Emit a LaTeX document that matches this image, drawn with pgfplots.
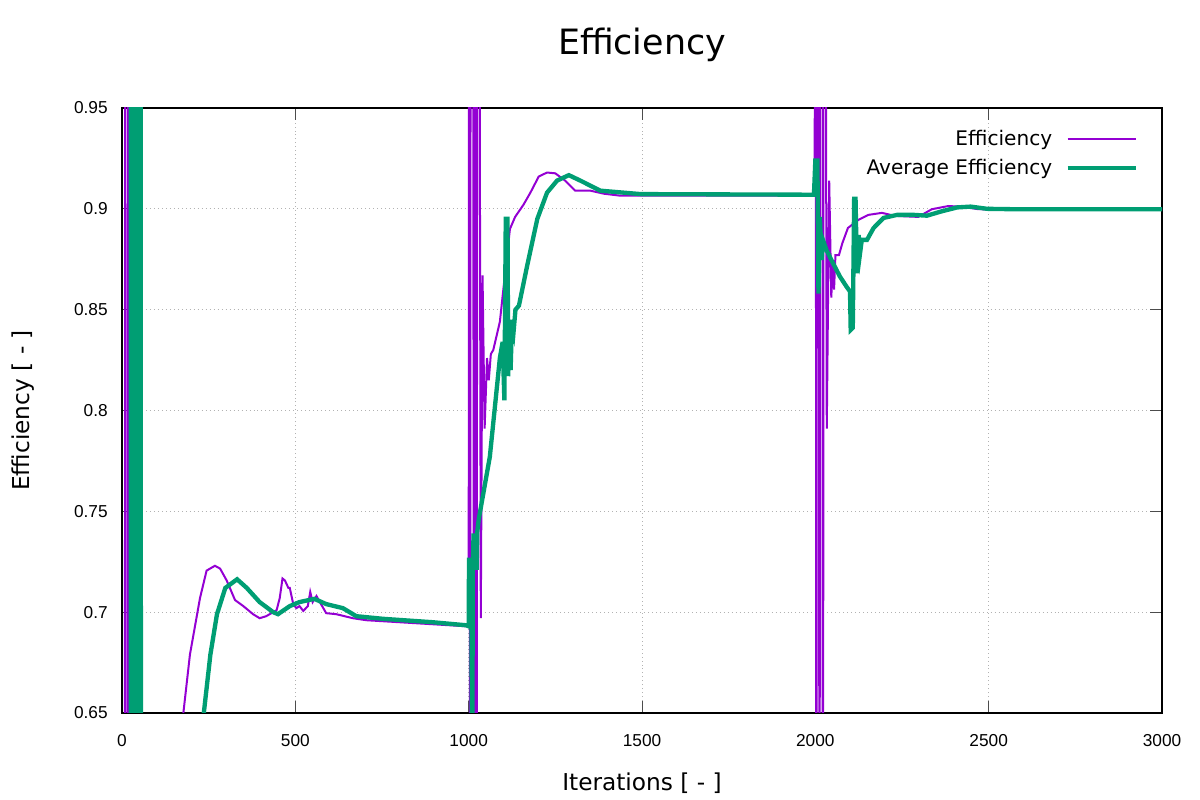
\documentclass[border=0pt]{standalone}
\usepackage{pgfplots}
\pgfplotsset{compat=1.18}
\usepackage{fontspec}
\setmainfont{DejaVu Sans}
\newfontfamily\tickfont{Liberation Sans}
\definecolor{effpurple}{HTML}{9400D3}
\definecolor{avggreen}{HTML}{009E73}
\begin{document}
\begin{tikzpicture}
\begin{axis}[
  scale only axis,
  width=624bp, height=363bp,
  xmin=0, xmax=3000, ymin=0.65, ymax=0.95,
  enlargelimits=false,
  axis line style={black, line width=0.8bp},
  xtick={0,500,1000,1500,2000,2500,3000},
  xticklabels={0,500,1000,1500,2000,2500,3000},
  ytick={0.65,0.7,0.75,0.8,0.85,0.9,0.95},
  yticklabels={0.65,0.7,0.75,0.8,0.85,0.9,0.95},
  tickpos=both, tick align=inside,
  major tick length=7bp,
  tick style={black!70, line width=0.6bp},
  /pgf/number format/assume math mode=true,
  tick label style={font=\tickfont\fontsize{10.4}{12}\selectfont},
  xticklabel style={anchor=center, yshift=-16.8bp},
  yticklabel style={anchor=east, inner sep=0pt, xshift=-8.4bp},
  grid=major,
  major grid style={gray!60, dotted, line width=0.6bp},
  title={Efficiency},
  title style={at={(rel axis cs:0.5,1)}, anchor=center, yshift=31.8bp, font=\fontsize{21}{25}\selectfont},
  xlabel={Iterations [ - ]},
  xlabel style={at={(rel axis cs:0.5,0)}, anchor=center, yshift=-42bp, font=\fontsize{14}{17}\selectfont},
  ylabel={Efficiency [ - ]},
  ylabel style={at={(rel axis cs:0,0.5)}, anchor=center, yshift=59.4bp, font=\fontsize{14}{17}\selectfont},
  legend cell align=right,
  legend plot pos=right,
  legend style={draw=none, fill=none, at={(rel axis cs:1,1)}, anchor=north east,
    xshift=-11.3bp, yshift=-9bp, font=\fontsize{12.1}{14.5}\selectfont, row sep=3bp,
    /tikz/every odd column/.append style={column sep=6bp}},
  legend image code/.code={\draw[#1] (0bp,0bp) -- (40.8bp,0bp);},
]
\addplot[effpurple, line width=1.2bp] coordinates {
(0,0.30)(8,0.30)(9.5,1.30)(11,0.30)(17,0.30)(18.5,1.30)(20,0.30)(40,0.35)(100,0.45)(150,0.58)(177,0.65)(196,0.679)(225,0.707)(244,0.7206)(268,0.723)(283,0.7216)(302,0.7157)(326,0.706)(350,0.703)(378,0.699)(397,0.697)(416,0.698)(436,0.700)(446,0.701)(455,0.707)(463,0.7167)(470,0.7157)(480,0.712)(484,0.712)(494,0.704)(503,0.702)(512,0.703)(523,0.7006)(536,0.703)(543,0.710)(550,0.705)(561,0.708)(574,0.704)(589,0.6995)(618,0.699)(666,0.697)(705,0.696)(801,0.695)(897,0.694)(993,0.693)(1000,0.693)
(1002,1.3)(1004,0.3)(1006,1.3)(1013,1.3)(1015,0.3)(1017,1.3)(1021,1.3)(1023,0.3)(1025,1.3)(1028,1.3)(1035,0.697)(1040,0.867)(1046,0.791)(1053,0.826)(1058,0.815)(1064,0.828)(1071,0.830)(1090,0.844)(1105,0.868)(1119,0.890)(1134,0.896)(1158,0.902)(1178,0.908)(1202,0.916)(1226,0.918)(1250,0.9176)(1278,0.914)(1307,0.909)(1351,0.909)(1390,0.9075)(1438,0.9065)(1496,0.9065)(1998,0.9065)
(2001,1.3)(2003,0.3)(2005,1.3)(2010,1.3)(2012,0.3)(2014,1.3)(2020,1.3)(2022,0.3)(2024,1.3)(2026,1.3)(2033,0.791)(2040,0.914)(2046,0.856)(2050,0.872)(2054,0.860)(2058,0.877)(2068,0.877)(2078,0.883)(2094,0.8905)(2124,0.8945)(2153,0.897)(2192,0.898)(2230,0.8965)(2297,0.896)(2336,0.8998)(2384,0.9014)(2423,0.901)(2471,0.8998)(2573,0.8997)(3000,0.8997)
};
\addlegendentry{Efficiency}
\addplot[avggreen, line width=2.6bp] coordinates {
(0,0.4)(25,0.4)(26,1.3)(28,0.4)(30,1.3)(32,0.4)(34,1.3)(36,0.4)(38,1.3)(40,0.4)(42,1.3)(44,0.4)(46,1.3)(48,0.4)(50,1.3)(52,0.4)(53,1.3)(55,0.4)(100,0.5)(180,0.6)(236,0.65)(255,0.679)(274,0.699)(298,0.712)(332,0.7163)(360,0.712)(397,0.705)(436,0.700)(450,0.699)(484,0.703)(512,0.705)(555,0.7066)(589,0.704)(637,0.702)(676,0.698)(753,0.6967)(897,0.695)(993,0.6935)(1000,0.693)
(1001,0.726)(1003,0.726)(1004,0.692)(1006,0.726)(1008,0.70)(1010,0.60)(1012,0.722)(1014,0.738)(1017,0.738)(1019,0.722)(1023,0.722)(1025,0.740)(1029,0.746)(1061,0.777)(1090,0.826)(1098,0.834)(1103,0.805)(1107,0.895)(1112,0.895)(1114,0.817)(1118,0.845)(1121,0.82)(1125,0.845)(1130,0.84)(1135,0.85)(1145,0.852)(1169,0.872)(1198,0.895)(1226,0.908)(1255,0.914)(1289,0.9167)(1322,0.914)(1380,0.909)(1496,0.9073)(1996,0.9070)
(2000,0.924)(2006,0.924)(2009,0.858)(2013,0.896)(2018,0.8746)(2022,0.8845)(2032,0.8796)(2051,0.873)(2071,0.8664)(2090,0.8614)(2100,0.859)(2102,0.840)(2108,0.841)(2112,0.905)(2116,0.905)(2120,0.868)(2125,0.887)(2129,0.878)(2134,0.8846)(2149,0.8846)(2168,0.8905)(2197,0.8955)(2236,0.897)(2284,0.897)(2322,0.8966)(2361,0.8986)(2409,0.9007)(2448,0.9011)(2496,0.900)(2573,0.8998)(3000,0.8998)
};
\addlegendentry{Average Efficiency}
\end{axis}
\pgfresetboundingbox
\useasboundingbox (-73.2bp,-52.2bp) rectangle (646.8bp,427.8bp);
\end{tikzpicture}
\end{document}
